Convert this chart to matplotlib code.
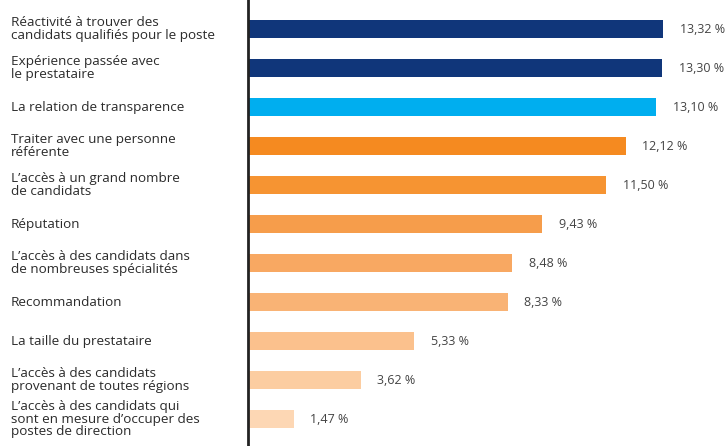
#!/usr/bin/env python3

import matplotlib
matplotlib.use("Agg")
import matplotlib.pyplot as plt
import matplotlib.transforms as mtransforms

labels = [
    "Réactivité à trouver des\ncandidats qualifiés pour le poste",
    "Expérience passée avec\nle prestataire",
    "La relation de transparence",
    "Traiter avec une personne\nréférente",
    "L’accès à un grand nombre\nde candidats",
    "Réputation",
    "L’accès à des candidats dans\nde nombreuses spécialités",
    "Recommandation",
    "La taille du prestataire",
    "L’accès à des candidats\nprovenant de toutes régions",
    "L’accès à des candidats qui\nsont en mesure d’occuper des\npostes de direction",
]
values = [13.32, 13.30, 13.10, 12.12, 11.50, 9.43, 8.48, 8.33, 5.33, 3.62, 1.47]
colors = [
    "#10367a", "#10367a", "#00aeef", "#f58a20", "#f69432", "#f69d4b",
    "#f8a862", "#f9b375", "#fbc18d", "#fccda1", "#fdd7b4",
]

plt.rcParams["font.family"] = ["Open Sans", "DejaVu Sans"]

fig = plt.figure(figsize=(7.27, 4.46), dpi=100)
ax = fig.add_axes([248 / 727, 0, 1 - 248 / 727, 1])

ypos = list(range(len(values)))
ax.barh(ypos, values, height=0.47, color=colors)

ax.set_xlim(0, 15.37)
ax.set_ylim(10.69, -0.744)

for s in ["top", "right", "bottom"]:
    ax.spines[s].set_visible(False)
ax.spines["left"].set_linewidth(2)
ax.spines["left"].set_color("#222222")
ax.set_xticks([])
ax.set_yticks([])

trans = mtransforms.blended_transform_factory(fig.transFigure, ax.transData)
for y, lab in zip(ypos, labels):
    ax.text(11 / 727, y, lab, transform=trans, ha="left", va="center",
            fontsize=9.7, color="#2b2b2b", linespacing=0.98)

for y, v in zip(ypos, values):
    ax.annotate(("%.2f %%" % v).replace(".", ","), (v, y), xytext=(12, 0),
                textcoords="offset points", ha="left", va="center",
                fontsize=9, color="#444444")

fig.savefig("out.png", dpi=100)
